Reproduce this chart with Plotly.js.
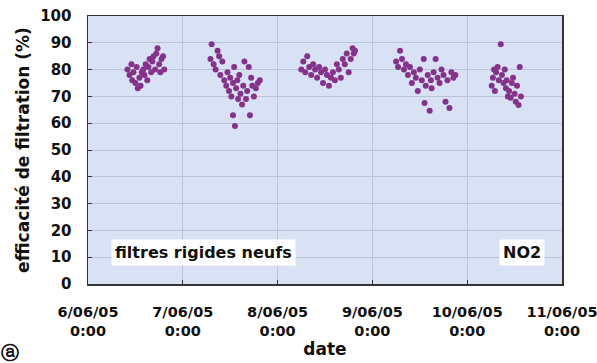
<!DOCTYPE html>
<html>
<head>
<meta charset="utf-8">
<script src="https://cdn.plot.ly/plotly-3.0.1.min.js"></script>
<style>html,body{margin:0;padding:0;background:#fff;}#chart{width:597px;height:363px;}</style>
</head>
<body>
<div id="chart"></div>
<script>
// Measurement times (hours after midnight) and efficiency values (%), per day
const day1Hours = [10,10.5,11,11.2,11.5,12,12.3,12.6,13,13.3,13.6,14,14.3,14.6,15,15.3,15.6,16,16.3,16.6,17,17.3,17.6,18,18.3,18.6,19,19.3];
const day1Values = [80,78,82,76,79,75,81,73,77,74,79,80,78,82,76,81,84,79,83,85,80,86,88,82,79,84,85,80];

const day2Hours = [7.0,7.3,7.8,8.3,8.8,9.2,9.5,10,10.5,11,11.3,11.7,12,12.3,12.7,12.7,13,13.2,13.5,13.8,14,14.3,14.6,15,15.3,15.6,16,16.3,16.7,17,17.3,17.6,18,18.5,19,19.5];
const day2Values = [84,89.5,82,80,87,85,78,83,76,74,79,72,77,70,75,63,81,59,73,76,69,78,71,67,74,83,69,72,81,63,77,74,70,73,75,76];

const day3Hours = [6,6.5,7,7.5,8,8.5,9,9.5,10,10.5,11,11.5,12,12.5,13,13.5,14,14.5,15,15.5,16,16.5,17,17.5,18,18.5,19,19.3,19.6];
const day3Values = [80,83,79,85,81,78,82,80,77,81,79,75,80,78,74,77,79,76,82,80,77,84,82,86,79,84,88,86,87];

const day4Hours = [6,6.5,7,7.5,8,8.5,9,9.5,10,10.5,11,11.5,12,12.5,13,13.2,13.5,14,14.5,14.8,15,15.5,16,16.5,17,17.5,18,18.5,19,19.5,20,20.5,21];
const day4Values = [83,81,87,84,80,82,78,81,75,79,77,72,80,76,84,67.5,74,78,64.6,76,73,79,84,77,75,80,78,68,76,65.7,79,77,78];

const day5Hours = [6.2,6.5,6.8,7,7.3,7.7,8,8.5,8.8,9.2,9.5,9.8,10,10.3,10.6,11,11.3,11.6,12,12.3,12.6,13,13.3,13.6];
const day5Values = [74,77,80,72,79,81,76,89.5,78,75,80,73,76,70,72,69.5,75,77,71,68,74,66.8,81,70];

const dayDates = ['2005-06-06','2005-06-07','2005-06-08','2005-06-09','2005-06-10'];
const tickDates = ['2005-06-06','2005-06-07','2005-06-08','2005-06-09','2005-06-10','2005-06-11'];
const tickLabels = ['6/06/05<br>0:00','7/06/05<br>0:00','8/06/05<br>0:00','9/06/05<br>0:00','10/06/05<br>0:00','11/06/05<br>0:00'];
const yTicks = [0,10,20,30,40,50,60,70,80,90,100];

function toStamp(day, h){
  const hh = Math.floor(h), mm = Math.round((h-hh)*60);
  return day + ' ' + String(hh).padStart(2,'0') + ':' + String(mm).padStart(2,'0');
}
const allH = [day1Hours, day2Hours, day3Hours, day4Hours, day5Hours];
const allV = [day1Values, day2Values, day3Values, day4Values, day5Values];
let xs = [], ys = [];
allH.forEach((hs, i) => { hs.forEach((h, j) => { xs.push(toStamp(dayDates[i], h)); ys.push(allV[i][j]); }); });

const F = 'DejaVu Sans, Arial, sans-serif';
const trace = {
  x: xs, y: ys, type: 'scatter', mode: 'markers',
  marker: {color: '#84328a', size: 6, line: {width: 0}},
  hoverinfo: 'skip'
};
const layout = {
  width: 597, height: 363,
  margin: {l: 88, r: 35, t: 16, b: 79},
  paper_bgcolor: '#ffffff', plot_bgcolor: '#d9e1f4',
  showlegend: false,
  font: {family: F, color: '#111', size: 15, weight: 'bold'},
  xaxis: {
    type: 'date', range: ['2005-06-06', '2005-06-11'],
    tickvals: tickDates, ticktext: tickLabels,
    tickfont: {family: F, size: 14.5, weight: 'bold', color: '#111'},
    ticklabeloverflow: 'allow',
    ticks: 'inside', ticklen: 4, tickcolor: '#333',
    showgrid: true, gridcolor: '#b9c3da', gridwidth: 1,
    showline: true, linecolor: '#333', linewidth: 1.5, mirror: true,
    zeroline: false, ticklabelstandoff: 14,
    title: {text: 'date', font: {family: F, size: 17, weight: 'bold', color: '#111'}, standoff: 2}
  },
  yaxis: {
    range: [0, 100], tickvals: yTicks,
    tickfont: {family: F, size: 15, weight: 'bold', color: '#111'},
    ticks: 'inside', ticklen: 4, tickcolor: '#333',
    showgrid: true, gridcolor: '#b9c3da', gridwidth: 1,
    showline: true, linecolor: '#333', linewidth: 1.5, mirror: true,
    zeroline: false, ticklabelstandoff: 12,
    title: {text: 'efficacité de filtration (%)', font: {family: F, size: 17, weight: 'bold', color: '#111'}, standoff: 6}
  },
  annotations: [
    {xref: 'paper', yref: 'paper', x: 0.243, y: 0.116, xanchor: 'center', yanchor: 'middle',
     text: 'filtres rigides neufs', showarrow: false,
     bgcolor: '#ffffff', borderpad: 3, font: {family: F, size: 16, weight: 'bold', color: '#111'}},
    {xref: 'paper', yref: 'paper', x: 0.916, y: 0.116, xanchor: 'center', yanchor: 'middle',
     text: 'NO2', showarrow: false,
     bgcolor: '#ffffff', borderpad: 3, font: {family: F, size: 16, weight: 'bold', color: '#111'}},
    {xref: 'paper', yref: 'paper', x: -0.165, y: -0.254, xanchor: 'center', yanchor: 'middle',
     text: 'ⓐ', showarrow: false,
     font: {family: F, size: 18, weight: 'bold', color: '#111'}}
  ]
};
Plotly.newPlot('chart', [trace], layout, {staticPlot: true, displayModeBar: false});
</script>
</body>
</html>
